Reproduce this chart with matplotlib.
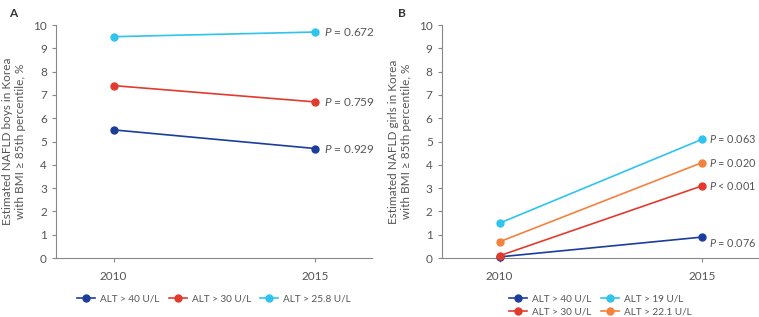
import matplotlib.pyplot as plt

# -------- data --------
years = [2010, 2015]

boys_alt40 = [5.5, 4.7]
boys_alt30 = [7.4, 6.7]
boys_alt258 = [9.5, 9.7]
boys_p = ['0.929', '0.759', '0.672']

girls_alt40 = [0.05, 0.9]
girls_alt30 = [0.1, 3.1]
girls_alt19 = [1.5, 5.1]
girls_alt221 = [0.7, 4.1]
girls_p = ['= 0.076', '< 0.001', '= 0.063', '= 0.020']
girls_p_y = [0.65, 3.1, 5.1, 4.1]

C_BLUE = '#1b3d9c'
C_RED = '#e23b2e'
C_CYAN = '#2ec4ee'
C_ORANGE = '#f5813f'
GREY = '#555555'

plt.rcParams['font.family'] = ['Lato', 'DejaVu Sans']
plt.rcParams['mathtext.fontset'] = 'custom'
plt.rcParams['mathtext.it'] = 'Lato:italic'

fig = plt.figure(figsize=(7.59, 3.17), dpi=100)
axA = fig.add_axes([0.0738, 0.186, 0.416, 0.735])
axB = fig.add_axes([0.582, 0.186, 0.418, 0.735])


def style_axes(ax, ylabel):
    ax.set_xlim(2008.57, 2016.4)
    ax.set_ylim(0, 10)
    ax.set_xticks(years)
    ax.set_yticks(range(0, 11))
    for s in ['top', 'right']:
        ax.spines[s].set_visible(False)
    for s in ['left', 'bottom']:
        ax.spines[s].set_color('#888888')
        ax.spines[s].set_linewidth(0.8)
    ax.tick_params(colors='#888888', labelcolor=GREY, length=3, width=0.8, labelsize=8.5)
    ax.tick_params(axis='x', pad=6)
    ax.set_ylabel(ylabel, color=GREY, fontsize=8.5, labelpad=5, linespacing=1.25)


def series(ax, y, color, label):
    ax.plot(years, y, color=color, lw=1.2, marker='o', ms=5, label=label, clip_on=False, zorder=3)


# -------- panel A --------
series(axA, boys_alt40, C_BLUE, 'ALT > 40 U/L')
series(axA, boys_alt30, C_RED, 'ALT > 30 U/L')
series(axA, boys_alt258, C_CYAN, 'ALT > 25.8 U/L')
for yv, p in zip([boys_alt40[1], boys_alt30[1], boys_alt258[1]], boys_p):
    axA.text(2015.22, yv, '$P$ = ' + p, color=GREY, fontsize=8.5, va='center', ha='left')
style_axes(axA, 'Estimated NAFLD boys in Korea\nwith BMI ≥ 85th percentile, %')
axA.legend(loc='upper center', bbox_to_anchor=(0.5, -0.12), ncol=3, frameon=False,
           fontsize=7.2, handlelength=1.8, columnspacing=0.9, handletextpad=0.5,
           labelcolor=GREY)
fig.text(0.012, 0.975, 'A', fontweight='bold', fontsize=8.5, color='#333333', va='top')

# -------- panel B --------
series(axB, girls_alt40, C_BLUE, 'ALT > 40 U/L')
series(axB, girls_alt30, C_RED, 'ALT > 30 U/L')
series(axB, girls_alt19, C_CYAN, 'ALT > 19 U/L')
series(axB, girls_alt221, C_ORANGE, 'ALT > 22.1 U/L')
for yv, p in zip(girls_p_y, girls_p):
    axB.text(2015.17, yv, '$P$ ' + p, color=GREY, fontsize=7.8, va='center', ha='left')
style_axes(axB, 'Estimated NAFLD girls in Korea\nwith BMI ≥ 85th percentile, %')
axB.legend(loc='upper center', bbox_to_anchor=(0.5, -0.12), ncol=2, frameon=False,
           fontsize=7.2, handlelength=1.8, columnspacing=0.9, handletextpad=0.5,
           labelspacing=0.35, labelcolor=GREY)
fig.text(0.525, 0.975, 'B', fontweight='bold', fontsize=8.5, color='#333333', va='top')

fig.savefig('out.png', dpi=100)
